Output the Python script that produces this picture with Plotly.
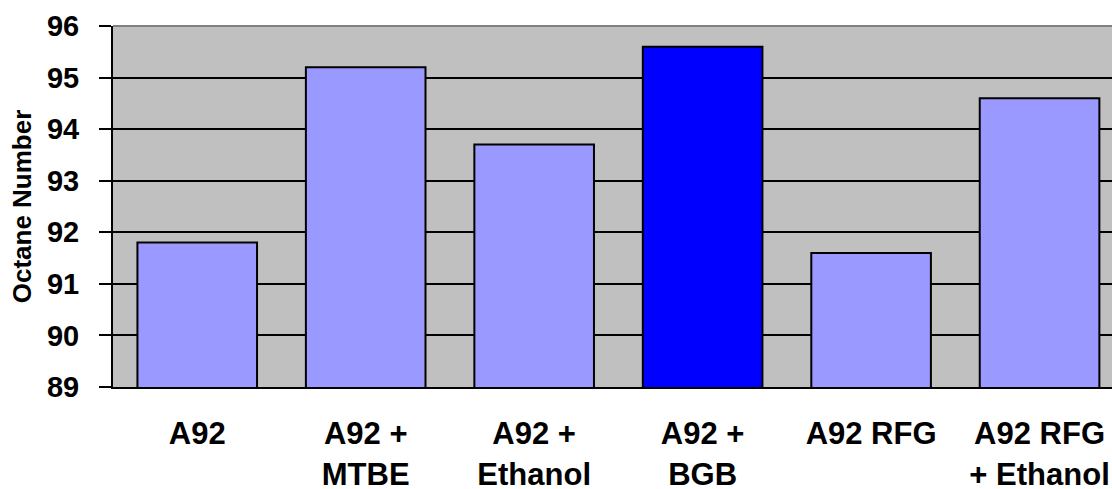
import plotly.graph_objects as go

# Octane numbers of gasoline blends
categories = ["A92", "A92 +<br>MTBE", "A92 +<br>Ethanol", "A92 +<br>BGB", "A92 RFG", "A92 RFG<br>+ Ethanol"]
octane = [91.8, 95.2, 93.7, 95.6, 91.6, 94.6]
bar_colors = ["#9999FF", "#9999FF", "#9999FF", "#0000FF", "#9999FF", "#9999FF"]
y_ticks = [89, 90, 91, 92, 93, 94, 95, 96]

font_family = "Liberation Sans, Arial, sans-serif"

fig = go.Figure(
    go.Bar(
        x=list(range(len(categories))),
        y=octane,
        width=0.71,
        marker=dict(color=bar_colors, line=dict(color="#000000", width=2)),
    )
)

fig.update_layout(
    width=1112,
    height=489,
    margin=dict(l=113, r=0, t=26, b=102, autoexpand=False),
    paper_bgcolor="#FFFFFF",
    plot_bgcolor="#C0C0C0",
    showlegend=False,
    font=dict(family=font_family, color="#000000"),
    xaxis=dict(
        range=[-0.5, 5.43],
        tickmode="array",
        tickvals=list(range(len(categories))),
        ticktext=[f"<b>{c}</b>" for c in categories],
        tickfont=dict(size=31, family=font_family),
        showgrid=False,
        zeroline=False,
        showline=True,
        linecolor="#000000",
        linewidth=2,
        ticks="",
        ticklabelstandoff=18,
        automargin=False,
    ),
    yaxis=dict(
        range=[89, 96],
        tickmode="array",
        tickvals=y_ticks,
        ticktext=[f"<b>{v}</b>" for v in y_ticks],
        tickfont=dict(size=29, family=font_family),
        showgrid=True,
        gridcolor="#000000",
        gridwidth=2,
        zeroline=False,
        showline=True,
        linecolor="#000000",
        linewidth=2,
        ticks="outside",
        ticklen=12,
        tickwidth=2,
        tickcolor="#000000",
        ticklabelstandoff=14,
        automargin=False,
        title=dict(
            text="<b>Octane Number</b>",
            font=dict(size=26, family=font_family),
            standoff=8,
        ),
    ),
    shapes=[
        dict(
            type="line", xref="paper", yref="paper",
            x0=0, x1=1, y0=1, y1=1,
            line=dict(color="#808080", width=2),
        )
    ],
)

fig.write_html("out.html")
